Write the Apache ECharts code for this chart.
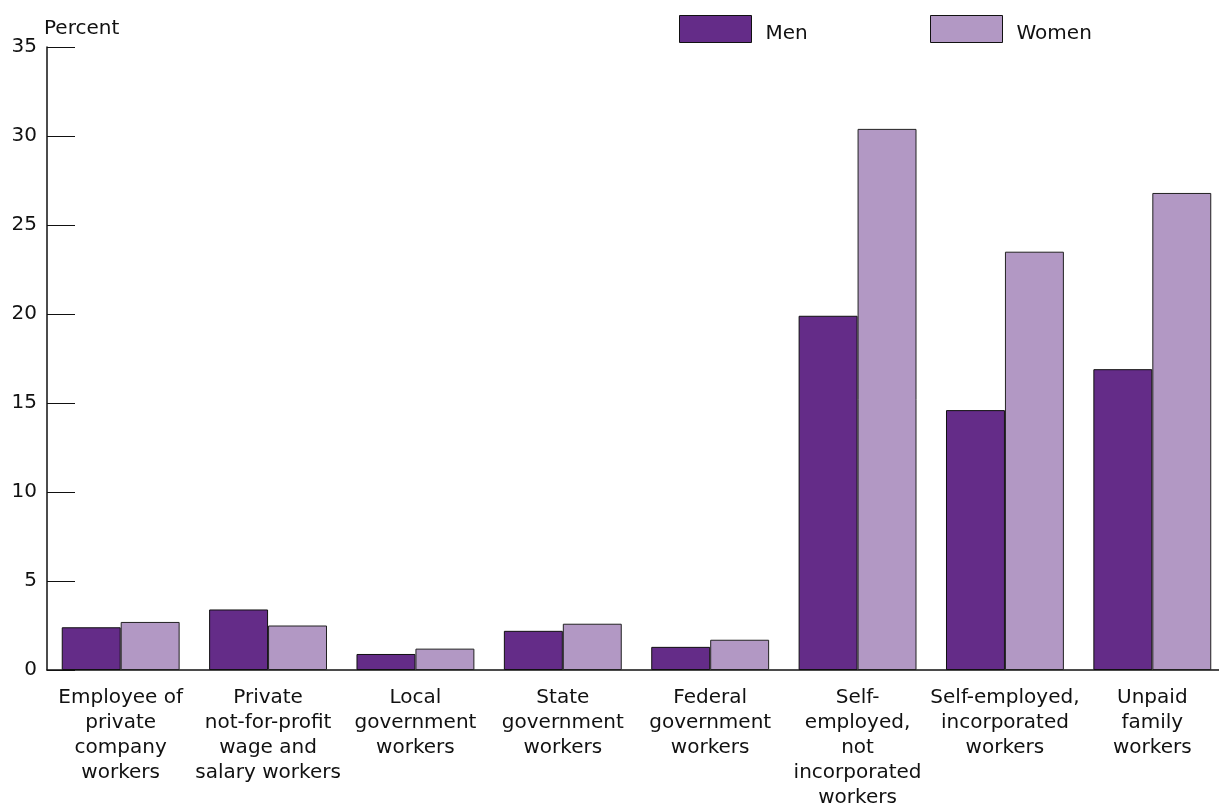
<!DOCTYPE html>
<html><head><meta charset="utf-8">
<script src="https://cdn.jsdelivr.net/npm/echarts@6/dist/echarts.min.js"></script>
<style>html,body{margin:0;padding:0;background:#fff;overflow:hidden}#c{width:1240px;height:810px}</style>
</head><body><div id="c"></div>
<script>
const categories = [
  "Employee of\nprivate\ncompany\nworkers",
  "Private\nnot-for-profit\nwage and\nsalary workers",
  "Local\ngovernment\nworkers",
  "State\ngovernment\nworkers",
  "Federal\ngovernment\nworkers",
  "Self-\nemployed,\nnot\nincorporated\nworkers",
  "Self-employed,\nincorporated\nworkers",
  "Unpaid\nfamily\nworkers"
];
const men = [2.4, 3.4, 0.9, 2.2, 1.3, 19.9, 14.6, 16.9];
const women = [2.7, 2.5, 1.2, 2.6, 1.7, 30.4, 23.5, 26.8];
const yTicks = {min: 0, max: 35, interval: 5};

const FONT = "DejaVu Sans";
const chart = echarts.init(document.getElementById('c'), null, {renderer: 'canvas'});
const legendText = {
  fontFamily: FONT, fontSize: 20, color: '#111',
  rich: {t: {fontFamily: FONT, fontSize: 20, color: '#111', padding: [10, 0, 0, 9]}}
};
const legendCommon = {
  top: 10, itemWidth: 72, itemHeight: 27, textStyle: legendText, selectedMode: false,
  itemStyle: {borderColor: '#111', borderWidth: 1},
  formatter: name => '{t|' + name + '}'
};
chart.setOption({
  animation: false,
  legend: [
    Object.assign({data: [{name: 'Men', icon: 'rect'}], left: 674}, legendCommon),
    Object.assign({data: [{name: 'Women', icon: 'rect'}], left: 925}, legendCommon)
  ],
  grid: {left: 47, right: 14, top: 47, bottom: 139, containLabel: false},
  xAxis: {
    type: 'category',
    data: categories,
    axisLine: {show: true, lineStyle: {color: '#111', width: 1.5}},
    axisTick: {show: false},
    axisLabel: {interval: 0, fontFamily: FONT, fontSize: 20, lineHeight: 25, color: '#111', margin: 15}
  },
  yAxis: {
    type: 'value',
    min: yTicks.min, max: yTicks.max, interval: yTicks.interval,
    name: 'Percent',
    nameLocation: 'end',
    nameGap: 8,
    nameTextStyle: {fontFamily: FONT, fontSize: 20, color: '#111', align: 'left', padding: [0, 0, 0, -3]},
    axisLine: {show: true, lineStyle: {color: '#111', width: 1.5}},
    axisTick: {show: true, inside: true, length: 28, lineStyle: {color: '#111', width: 1}},
    splitLine: {show: false},
    axisLabel: {fontFamily: FONT, fontSize: 20, color: '#111', margin: 10}
  },
  series: [
    {name: 'Men', type: 'bar', data: men, barGap: '0%', barCategoryGap: '20%',
     itemStyle: {color: '#642c88', borderColor: '#111', borderWidth: 1}},
    {name: 'Women', type: 'bar', data: women, barGap: '0%', barCategoryGap: '20%',
     itemStyle: {color: '#b298c4', borderColor: '#222', borderWidth: 1}}
  ]
});
</script></body></html>
